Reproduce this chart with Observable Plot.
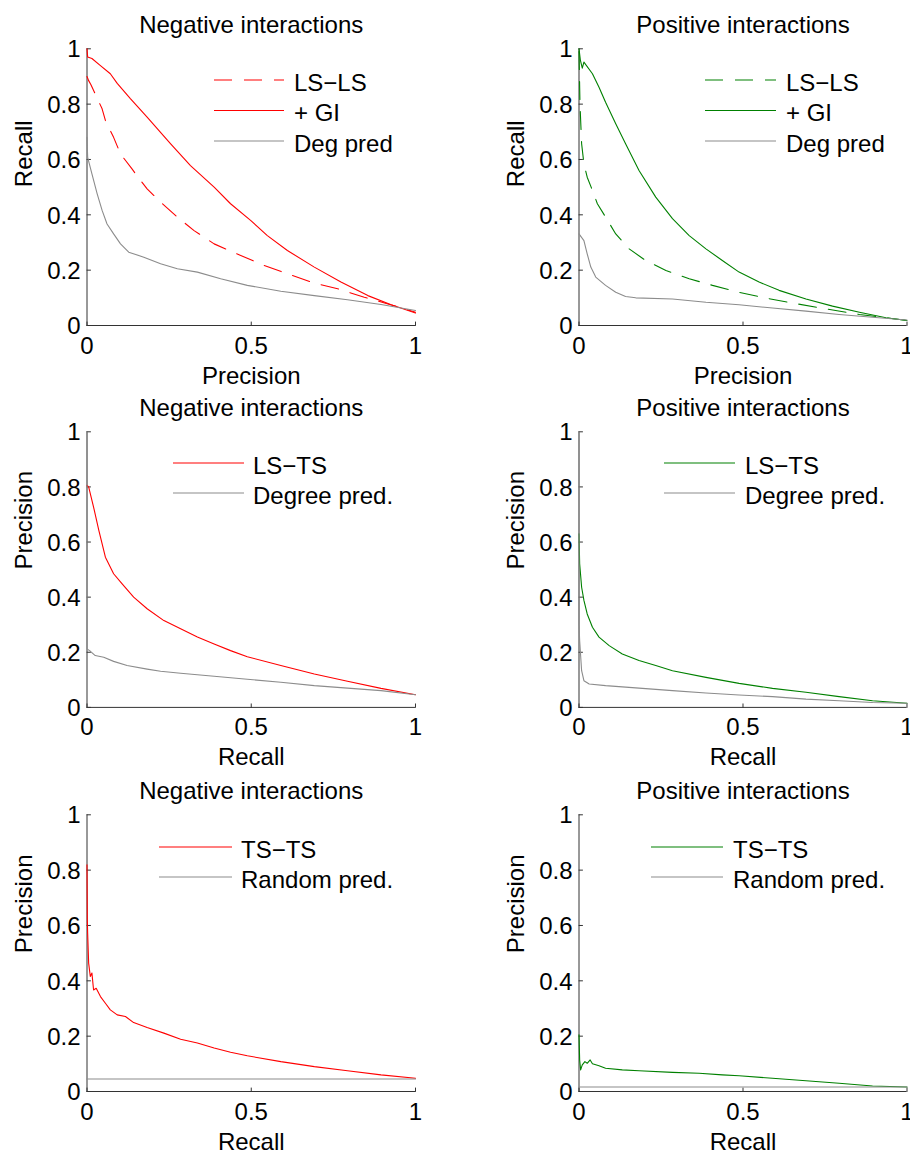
<!DOCTYPE html>
<html>
<head>
<meta charset="utf-8">
<script src="https://cdn.jsdelivr.net/npm/d3@7"></script>
<script src="https://cdn.jsdelivr.net/npm/@observablehq/plot@0.6"></script>
<style>
  html, body { margin: 0; padding: 0; background: #fff; overflow: hidden; }
  #fig { position: relative; width: 910px; height: 1153px; overflow: hidden;
         font-family: "Liberation Sans", Arial, sans-serif; }
  #fig svg { position: absolute; }
</style>
</head>
<body>
<div id="fig"></div>
<script>
// ---- Data: [x, y] pairs ----

// Row 1: recall vs precision
const negLsLs = [[0,0.9],[0.005,0.885],[0.012,0.87],[0.025,0.837],[0.046,0.783],[0.056,0.741],[0.081,0.68],[0.102,0.62],[0.137,0.566],[0.163,0.524],[0.183,0.494],[0.224,0.446],[0.275,0.392],[0.326,0.343],[0.387,0.295],[0.468,0.253],[0.539,0.217],[0.61,0.187],[0.692,0.153],[0.763,0.133],[0.844,0.102],[0.916,0.078],[1.0,0.048]];
const negGi = [[0,1.0],[0.002,0.97],[0.015,0.965],[0.04,0.94],[0.071,0.91],[0.092,0.875],[0.132,0.82],[0.183,0.753],[0.254,0.657],[0.315,0.578],[0.387,0.5],[0.437,0.44],[0.498,0.38],[0.549,0.325],[0.61,0.271],[0.692,0.211],[0.773,0.157],[0.855,0.108],[0.926,0.075],[1.0,0.045]];
const negDeg = [[0,0.68],[0.002,0.608],[0.015,0.548],[0.031,0.476],[0.046,0.416],[0.061,0.367],[0.081,0.331],[0.102,0.295],[0.127,0.265],[0.173,0.247],[0.224,0.223],[0.275,0.205],[0.336,0.193],[0.407,0.169],[0.488,0.145],[0.59,0.124],[0.692,0.108],[0.793,0.093],[0.895,0.076],[1.0,0.054]];

const posLsLs = [[0,0.99],[0.003,0.8],[0.008,0.657],[0.015,0.584],[0.025,0.536],[0.041,0.488],[0.056,0.44],[0.081,0.392],[0.112,0.331],[0.153,0.277],[0.203,0.235],[0.265,0.199],[0.336,0.169],[0.407,0.145],[0.488,0.12],[0.57,0.099],[0.651,0.081],[0.753,0.06],[0.855,0.04],[1.0,0.018]];
const posGi = [[0,1.0],[0.004,0.96],[0.01,0.93],[0.015,0.952],[0.041,0.91],[0.061,0.861],[0.081,0.807],[0.112,0.729],[0.142,0.657],[0.183,0.56],[0.234,0.464],[0.285,0.386],[0.336,0.325],[0.387,0.277],[0.437,0.235],[0.488,0.193],[0.549,0.157],[0.61,0.127],[0.692,0.096],[0.773,0.07],[0.855,0.048],[0.936,0.028],[1.0,0.018]];
const posDeg = [[0,0.331],[0.015,0.307],[0.025,0.259],[0.036,0.211],[0.051,0.175],[0.081,0.145],[0.112,0.12],[0.142,0.105],[0.173,0.1],[0.285,0.096],[0.387,0.084],[0.488,0.075],[0.59,0.063],[0.692,0.052],[0.793,0.04],[0.895,0.03],[1.0,0.02]];

// Row 2: precision vs recall, LS-TS
const negLsTs = [[0,0.806],[0.005,0.8],[0.02,0.727],[0.036,0.642],[0.056,0.545],[0.081,0.485],[0.107,0.448],[0.142,0.4],[0.183,0.358],[0.234,0.315],[0.285,0.285],[0.336,0.255],[0.387,0.23],[0.437,0.206],[0.488,0.184],[0.59,0.152],[0.692,0.121],[0.793,0.095],[0.895,0.069],[1.0,0.046]];
const negDegTs = [[0,1.0],[0,0.212],[0.008,0.206],[0.025,0.188],[0.051,0.182],[0.081,0.167],[0.122,0.152],[0.183,0.139],[0.224,0.131],[0.285,0.124],[0.387,0.113],[0.488,0.102],[0.59,0.091],[0.692,0.079],[0.793,0.07],[0.895,0.061],[1.0,0.046]];
const posLsTs = [[0,0.63],[0.002,0.521],[0.008,0.436],[0.015,0.388],[0.025,0.339],[0.041,0.291],[0.061,0.255],[0.092,0.224],[0.132,0.194],[0.183,0.17],[0.234,0.152],[0.285,0.133],[0.387,0.109],[0.488,0.087],[0.59,0.069],[0.692,0.055],[0.793,0.039],[0.895,0.024],[1.0,0.015]];
const posDegTs = [[0,1.0],[0,0.3],[0.002,0.242],[0.008,0.133],[0.015,0.097],[0.031,0.085],[0.081,0.079],[0.183,0.07],[0.285,0.061],[0.387,0.052],[0.488,0.045],[0.59,0.039],[0.692,0.03],[0.793,0.024],[0.895,0.018],[1.0,0.015]];

// Row 3: precision vs recall, TS-TS and random baseline
const negTsTs = [[0,0.819],[0.001,0.62],[0.002,0.572],[0.005,0.464],[0.01,0.416],[0.015,0.428],[0.02,0.367],[0.028,0.373],[0.041,0.343],[0.056,0.319],[0.071,0.295],[0.092,0.277],[0.117,0.271],[0.142,0.249],[0.183,0.231],[0.234,0.211],[0.285,0.189],[0.336,0.175],[0.387,0.157],[0.437,0.142],[0.488,0.129],[0.59,0.108],[0.692,0.09],[0.793,0.075],[0.895,0.06],[1.0,0.048]];
const posTsTs = [[0,0.205],[0.002,0.114],[0.005,0.078],[0.01,0.096],[0.018,0.108],[0.025,0.102],[0.034,0.114],[0.041,0.1],[0.061,0.093],[0.081,0.084],[0.132,0.078],[0.183,0.075],[0.285,0.069],[0.366,0.066],[0.437,0.06],[0.488,0.057],[0.59,0.048],[0.692,0.039],[0.793,0.03],[0.895,0.02],[1.0,0.016]];
const randomNeg = 0.045;
const randomPos = 0.016;

// Tick values
const xTicks = [0, 0.5, 1];
const yTicks = [0, 0.2, 0.4, 0.6, 0.8, 1];

// ---- Styling ----
const RED = "#ff0000", GREEN = "#008000", GRAY = "#8c8c8c", AXIS = "#333333";
const FONT = "'Liberation Sans', Arial, sans-serif";
const FS = 24;
const DASH = "18,12";

const flat = v => [[0, v], [1, v]];

const panels = [
  {row: 0, col: 0, title: "Negative interactions", xLabel: "Precision", yLabel: "Recall",
   series: [{name: "LS\u2212LS", data: negLsLs, color: RED, dash: true},
            {name: "+ GI", data: negGi, color: RED},
            {name: "Deg pred", data: negDeg, color: GRAY}]},
  {row: 0, col: 1, title: "Positive interactions", xLabel: "Precision", yLabel: "Recall",
   series: [{name: "LS\u2212LS", data: posLsLs, color: GREEN, dash: true},
            {name: "+ GI", data: posGi, color: GREEN},
            {name: "Deg pred", data: posDeg, color: GRAY}]},
  {row: 1, col: 0, title: "Negative interactions", xLabel: "Recall", yLabel: "Precision",
   series: [{name: "LS\u2212TS", data: negLsTs, color: RED},
            {name: "Degree pred.", data: negDegTs, color: GRAY}]},
  {row: 1, col: 1, title: "Positive interactions", xLabel: "Recall", yLabel: "Precision",
   series: [{name: "LS\u2212TS", data: posLsTs, color: GREEN},
            {name: "Degree pred.", data: posDegTs, color: GRAY}]},
  {row: 2, col: 0, title: "Negative interactions", xLabel: "Recall", yLabel: "Precision",
   series: [{name: "TS\u2212TS", data: negTsTs, color: RED},
            {name: "Random pred.", data: flat(randomNeg), color: GRAY}]},
  {row: 2, col: 1, title: "Positive interactions", xLabel: "Recall", yLabel: "Precision",
   series: [{name: "TS\u2212TS", data: posTsTs, color: GREEN},
            {name: "Random pred.", data: flat(randomPos), color: GRAY}]}
];

// Panel geometry (page pixels)
const cols = [{left: 0, marginLeft: 86.5, marginRight: 40},
              {left: 455, marginLeft: 123.5, marginRight: 3.5}];
const rows = [{frameTop: 48.3, frameH: 276.7},
              {frameTop: 431.7, frameH: 275.6},
              {frameTop: 814.3, frameH: 276.7}];
const MT = 48.3, MB = 66;

// Legend boxes: line from x1 to x2, text at tx, first row at y0
const legendPos = [
  [{x1: 214, x2: 284, tx: 294, y0: 80, step: 30.5}, {x1: 705, x2: 776, tx: 786, y0: 80, step: 30.5}],
  [{x1: 173, x2: 244, tx: 253, y0: 463, step: 30}, {x1: 664, x2: 735, tx: 745, y0: 463, step: 30}],
  [{x1: 159, x2: 232, tx: 241, y0: 847, step: 30}, {x1: 651, x2: 723, tx: 733, y0: 847, step: 30}]
];

// Inward tick shape for vector marks
const tickShape = {draw(ctx, l) { ctx.moveTo(0, 0); ctx.lineTo(0, -l); }};

const fig = document.getElementById("fig");

for (const p of panels) {
  const c = cols[p.col], r = rows[p.row];
  const height = MT + r.frameH + MB;
  const width = 455;
  const txt = {fontSize: FS, fill: "black"};

  const marks = [
    Plot.ruleX([0], {stroke: AXIS, strokeWidth: 1}),
    Plot.ruleY([0], {stroke: AXIS, strokeWidth: 1}),
    Plot.vector(xTicks, {x: d => d, y: 0, length: 3.5, rotate: 0, anchor: "start", shape: tickShape, stroke: AXIS, strokeWidth: 1}),
    Plot.vector(yTicks, {x: 0, y: d => d, length: 3.5, rotate: 90, anchor: "start", shape: tickShape, stroke: AXIS, strokeWidth: 1}),
    ...p.series.map(s => Plot.line(s.data, {
      x: d => d[0], y: d => d[1], stroke: s.color, strokeWidth: 1.1,
      ...(s.dash ? {strokeDasharray: DASH} : {})
    })),
    Plot.text(xTicks, {x: d => d, frameAnchor: "bottom", dy: 28, lineAnchor: "bottom", text: d => String(d), ...txt}),
    Plot.text(yTicks, {y: d => d, frameAnchor: "left", dx: -6.5, dy: 1, textAnchor: "end", lineAnchor: "middle", text: d => String(d), ...txt}),
    Plot.text([p.title], {frameAnchor: "top", dy: -16, lineAnchor: "bottom", text: d => d, ...txt}),
    Plot.text([p.xLabel], {frameAnchor: "bottom", dy: 58, lineAnchor: "bottom", text: d => d, ...txt}),
    Plot.text([p.yLabel], {frameAnchor: "left", dx: -55, rotate: -90, lineAnchor: "bottom", text: d => d, ...txt})
  ];

  const svg = Plot.plot({
    width, height,
    marginLeft: c.marginLeft, marginRight: c.marginRight,
    marginTop: MT, marginBottom: MB,
    x: {domain: [0, 1], axis: null},
    y: {domain: [0, 1], axis: null},
    style: {background: "transparent", overflow: "visible", fontFamily: FONT, fontSize: FS + "px"},
    marks
  });
  svg.style.position = "absolute";
  svg.style.left = c.left + "px";
  svg.style.top = (r.frameTop - MT) + "px";
  svg.style.maxWidth = "none";
  fig.appendChild(svg);
}

// Legends drawn in an overlay
const overlay = d3.select(fig).append("svg")
  .attr("width", 910).attr("height", 1153)
  .style("left", "0px").style("top", "0px")
  .style("pointer-events", "none");

for (const p of panels) {
  const L = legendPos[p.row][p.col];
  p.series.forEach((s, i) => {
    const y = L.y0 + i * L.step;
    overlay.append("line")
      .attr("x1", L.x1).attr("x2", L.x2).attr("y1", y).attr("y2", y)
      .attr("stroke", s.color).attr("stroke-width", 1.1)
      .attr("stroke-dasharray", s.dash ? DASH : null);
    overlay.append("text")
      .attr("x", L.tx).attr("y", y + 10.5)
      .attr("font-family", FONT).attr("font-size", FS)
      .attr("fill", "black")
      .text(s.name);
  });
}
</script>
</body>
</html>
